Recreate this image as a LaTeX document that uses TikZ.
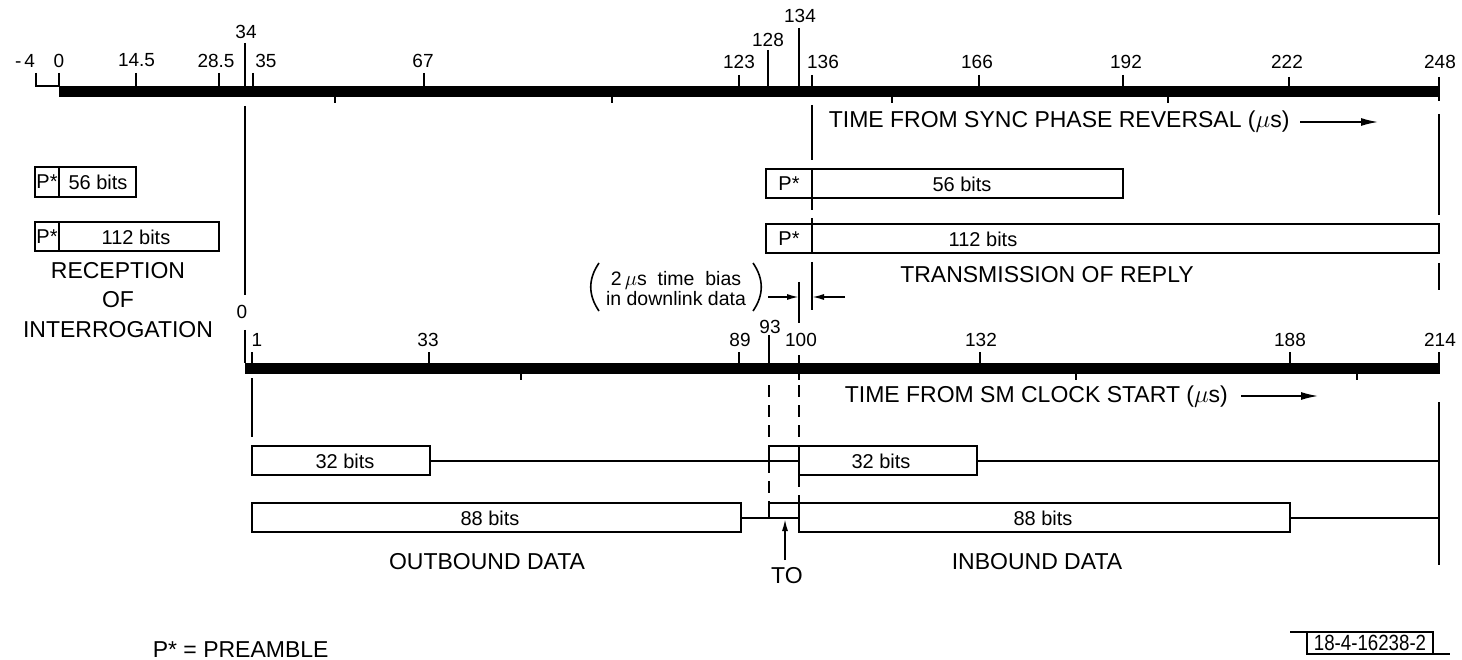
\documentclass[tikz,border=0pt]{standalone}
\usepackage{fontspec}
\setmainfont{Liberation Sans}
\usetikzlibrary{arrows.meta}

\begin{document}
\begin{tikzpicture}[x=1pt,y=-1pt,line width=1.6pt,>={Latex[length=12pt,width=6pt]},
  num/.style={inner sep=0pt,font=\fontsize{19}{22}\selectfont},
  lbl/.style={inner sep=0pt,font=\fontsize{23}{29.5}\selectfont},
  bits/.style={inner sep=0pt,font=\fontsize{20}{24}\selectfont},
  guide/.style={dash pattern=on 12pt off 8pt}]

\useasboundingbox[fill=white] (0,0) rectangle (1462,660);

% Top axis: time from sync phase reversal
\fill (59,86) rectangle (1439,97);
\draw (36,73) -- (36,86) -- (59,86);
\draw (59,73) -- (59,86) (136,73) -- (136,86) (219,73) -- (219,86)
      (245,43) -- (245,86) (253,73) -- (253,86) (424,73) -- (424,86);
\draw (739,75) -- (739,86) (768,50) -- (768,86) (799,28) -- (799,86)
      (812,75) -- (812,86) (979,75) -- (979,86) (1123,75) -- (1123,86)
      (1289,77) -- (1289,86) (1439,77) -- (1439,101);
\draw (335,97) -- (335,103) (612,97) -- (612,103)
      (892,97) -- (892,103) (1168,97) -- (1168,103);

\node[num] (sm4) at (25,60.5) {-\hspace{3pt}4};
\node[num] (s0) at (59,60.5) {0};
\node[num] (s14) at (136.5,60.5) {14.5};
\node[num] (s28) at (216,60.5) {28.5};
\node[num] (s34) at (246,31.5) {34};
\node[num] (s35) at (266,60.5) {35};
\node[num] (s67) at (423,60.5) {67};
\node[num] (s123) at (739,61.5) {123};
\node[num] (s128) at (768,40) {128};
\node[num] (s134) at (800,15.5) {134};
\node[num] (s136) at (823,61.5) {136};
\node[num] (s166) at (977,61.5) {166};
\node[num] (s192) at (1126,61.5) {192};
\node[num] (s222) at (1287,61.5) {222};
\node[num] (s248) at (1440,61.5) {248};

\node[lbl,anchor=base west] (sync) at (828,128) {TIME FROM SYNC PHASE REVERSAL ($\mu$s)};
\draw[line width=1.4pt,-{Latex[length=17pt,width=8pt]}] (1300,122) -- (1378,122);

% Reception of interrogation
\draw (35,167) rectangle (136,197) (59,167) -- (59,197);
\node[bits] (rp1) at (47,182) {P*};
\node[bits] (rb56) at (98,182) {56 bits};
\draw (35,222) rectangle (219,251) (59,222) -- (59,251);
\node[bits] (rp2) at (47,237) {P*};
\node[bits] (rb112) at (136,237) {112 bits};
\node[lbl,align=center] (recep) at (118,300) {RECEPTION\\OF\\INTERROGATION};

% Transmission of reply
\draw (766,169) rectangle (1123,198) (812,169) -- (812,198);
\node[bits] (tp1) at (789,184) {P*};
\node[bits] (tb56) at (962,184) {56 bits};
\draw (766,224) rectangle (1439,253) (812,224) -- (812,253);
\node[bits] (tp2) at (789,239) {P*};
\node[bits] (tb112) at (983,239) {112 bits};
\node[lbl,anchor=base] (trans) at (1047,283) {TRANSMISSION OF REPLY};

% Guide lines
\draw (245,106) -- (245,295);
\draw (812,105) -- (812,160) (812,262) -- (812,310);
\draw[guide] (812,198) -- (812,224);
\draw (1439,114) -- (1439,215) (1439,263) -- (1439,290);
\draw (799,282) -- (799,323);

% Time bias
\node[font=\fontsize{19.5}{20}\selectfont,inner sep=0pt,align=center] (bias) at (676,289)
  {2\,$\mu$s\ \ time\ \ bias\\in downlink data};
\draw (599,263) .. controls (588,279) and (588,295) .. (599,311);
\draw (753,263) .. controls (764,279) and (764,295) .. (753,311);
\draw[->] (768,297) -- (799,297);
\draw[->] (845,297) -- (812,297);

% Bottom axis: time from SM clock start
\fill (245,363) rectangle (1439,374);
\draw (245,330) -- (245,363) (252,352) -- (252,363) (429,352) -- (429,363)
      (739,352) -- (739,363) (769,335) -- (769,363) (799,355) -- (799,363)
      (980,352) -- (980,363) (1290,352) -- (1290,363) (1439,352) -- (1439,374);
\draw (521,374) -- (521,380) (799,374) -- (799,380)
      (1076,374) -- (1076,380) (1357,374) -- (1357,380);

\node[num] (c0) at (242,311.5) {0};
\node[num] (c1) at (257,340) {1};
\node[num] (c33) at (428,340) {33};
\node[num] (c89) at (740,340) {89};
\node[num] (c93) at (770,327) {93};
\node[num] (c100) at (801,340) {100};
\node[num] (c132) at (981,340) {132};
\node[num] (c188) at (1290,340) {188};
\node[num] (c214) at (1440,340) {214};

\node[lbl,anchor=base west] (clock) at (844,402) {TIME FROM SM CLOCK START ($\mu$s)};
\draw[line width=1.4pt,-{Latex[length=17pt,width=8pt]}] (1241,396) -- (1318,396);

% Outbound / inbound data
\draw (252,378) -- (252,437);
\draw[guide] (769,385) -- (769,446) (769,461) -- (769,503);
\draw[guide] (799,385) -- (799,446) (799,475) -- (799,503);
\draw (1439,402) -- (1439,565);

\draw (252,446) rectangle (430,475) (430,461) -- (769,461);
\draw (769,446) rectangle (799,461);
\draw (799,446) rectangle (977,475) (977,461) -- (1439,461);
\node[bits] (ob32) at (345,461) {32 bits};
\node[bits] (ib32) at (881,461) {32 bits};

\draw (252,503) rectangle (741,532) (741,518) -- (769,518);
\draw (769,503) rectangle (799,518);
\draw (799,503) rectangle (1290,532) (1290,518) -- (1439,518);
\node[bits] (ob88) at (490,518) {88 bits};
\node[bits] (ib88) at (1043,518) {88 bits};

\node[lbl,anchor=base] (outb) at (487,569) {OUTBOUND DATA};
\node[lbl,anchor=base] (inb) at (1037,569) {INBOUND DATA};
\node[lbl,anchor=base] (t0) at (787,583) {TO};
\draw[->] (785,560) -- (785,519);

% Legend and figure number
\node[lbl,anchor=base west] (legend) at (152,657) {P* = PREAMBLE};
\draw (1307,632) rectangle (1433,654) (1290,632) -- (1307,632) (1433,654) -- (1450,654);
\node[inner sep=0pt,font=\fontsize{22}{24}\selectfont] (fig) at (1370,643) {\scalebox{0.85}[1]{18-4-16238-2}};

\end{tikzpicture}
\end{document}
